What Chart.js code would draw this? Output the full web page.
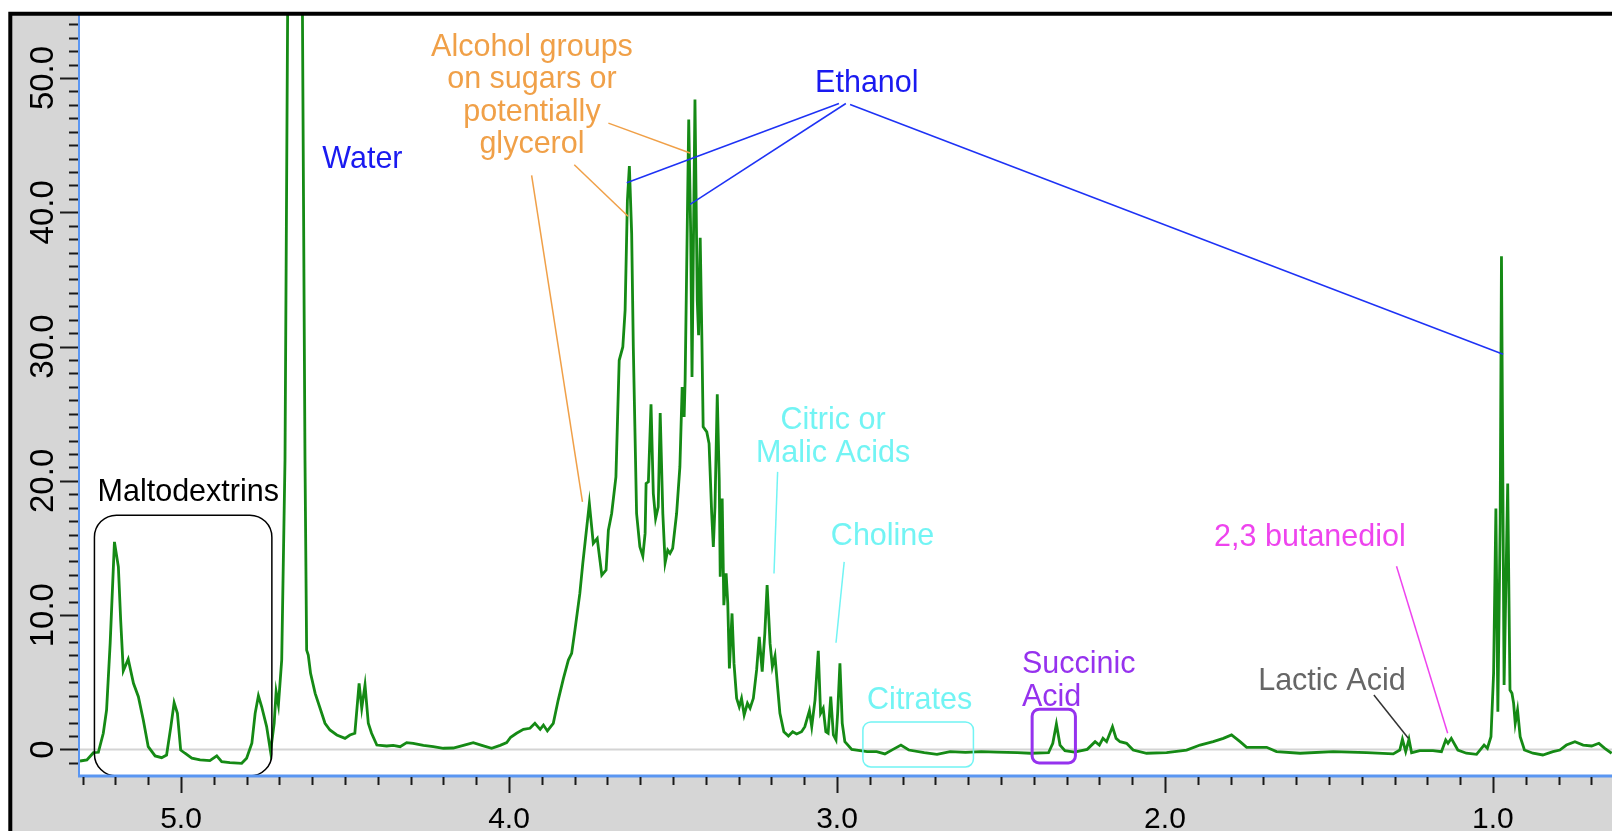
<!DOCTYPE html>
<html>
<head>
<meta charset="utf-8">
<script src="https://cdn.jsdelivr.net/npm/chart.js@4.4.1/dist/chart.umd.min.js"></script>
<style>
  html, body { margin: 0; padding: 0; background: #fff; }
  canvas { display: block; }
</style>
</head>
<body>
<canvas id="spectrum" width="1612" height="831"></canvas>
<script>
// chemical shift (ppm) and intensity
const shifts = [
  5.308, 5.287, 5.267, 5.252, 5.237, 5.227, 5.216, 5.203, 5.191, 5.184,
  5.176, 5.161, 5.145, 5.130, 5.115, 5.100, 5.079, 5.059, 5.044, 5.031,
  5.021, 5.011, 5.001, 4.988, 4.967, 4.942, 4.912, 4.891, 4.876, 4.851,
  4.815, 4.800, 4.784, 4.774, 4.764, 4.754, 4.739, 4.727, 4.716, 4.710,
  4.703, 4.693, 4.683, 4.652, 4.622, 4.617, 4.612, 4.605, 4.591, 4.576,
  4.561, 4.546, 4.525, 4.500, 4.485, 4.470, 4.457, 4.449, 4.439, 4.429,
  4.419, 4.403, 4.373, 4.353, 4.332, 4.312, 4.292, 4.261, 4.231, 4.200,
  4.170, 4.139, 4.109, 4.083, 4.053, 4.027, 4.007, 3.995, 3.977, 3.956,
  3.936, 3.921, 3.905, 3.895, 3.883, 3.865, 3.850, 3.834, 3.819, 3.809,
  3.799, 3.784, 3.775, 3.765, 3.755, 3.743, 3.731, 3.717, 3.704, 3.697,
  3.687, 3.674, 3.664, 3.653, 3.646, 3.639, 3.633, 3.626, 3.621, 3.611,
  3.601, 3.592, 3.585, 3.582, 3.575, 3.567, 3.560, 3.553, 3.545, 3.539,
  3.531, 3.524, 3.516, 3.509, 3.501, 3.489, 3.479, 3.472, 3.466, 3.463,
  3.452, 3.446, 3.442, 3.433, 3.426, 3.422, 3.417, 3.412, 3.408, 3.397,
  3.390, 3.382, 3.377, 3.372, 3.365, 3.359, 3.356, 3.350, 3.345, 3.338,
  3.333, 3.328, 3.320, 3.314, 3.306, 3.298, 3.291, 3.283, 3.273, 3.265,
  3.255, 3.245, 3.237, 3.228, 3.220, 3.213, 3.204, 3.197, 3.189, 3.182,
  3.174, 3.162, 3.148, 3.135, 3.123, 3.108, 3.098, 3.084, 3.077, 3.067,
  3.057, 3.050, 3.042, 3.034, 3.027, 3.019, 3.011, 3.003, 2.998, 2.991,
  2.984, 2.976, 2.955, 2.940, 2.908, 2.879, 2.854, 2.829, 2.805, 2.781,
  2.734, 2.695, 2.655, 2.608, 2.560, 2.513, 2.450, 2.410, 2.355, 2.342,
  2.331, 2.320, 2.305, 2.276, 2.237, 2.213, 2.200, 2.189, 2.178, 2.160,
  2.149, 2.137, 2.117, 2.097, 2.056, 1.995, 1.934, 1.893, 1.853, 1.822,
  1.797, 1.771, 1.751, 1.690, 1.660, 1.588, 1.487, 1.385, 1.304, 1.284,
  1.276, 1.266, 1.256, 1.248, 1.223, 1.183, 1.157, 1.144, 1.137, 1.127,
  1.107, 1.081, 1.050, 1.027, 1.017, 1.006, 0.998, 0.991, 0.985, 0.978,
  0.974, 0.966, 0.955, 0.948, 0.942, 0.937, 0.932, 0.925, 0.917, 0.904,
  0.878, 0.848, 0.817, 0.796, 0.776, 0.750, 0.725, 0.699, 0.677, 0.659,
  0.638
]

const intensities = [
  -0.86, -0.78, -0.24, -0.21, 1.21, 2.94, 7.92, 15.46, 13.60, 9.64,
  5.86, 6.73, 4.93, 3.93, 2.19, 0.21, -0.48, -0.61, -0.41, 1.70,
  3.48, 2.69, -0.04, -0.28, -0.65, -0.78, -0.83, -0.48, -0.91, -0.98,
  -1.03, -0.65, 0.46, 2.69, 4.00, 3.18, 1.70, -0.16, 1.95, 4.30,
  3.31, 6.66, 21.5, 150, 21.54, 7.40, 7.03, 5.67, 4.18, 3.07,
  1.95, 1.45, 1.08, 0.83, 1.08, 1.21, 4.93, 3.07, 4.80, 1.95,
  1.21, 0.33, 0.26, 0.31, 0.21, 0.51, 0.46, 0.31, 0.21, 0.09,
  0.11, 0.31, 0.51, 0.31, 0.09, 0.31, 0.51, 0.91, 1.21, 1.50,
  1.58, 1.95, 1.50, 1.82, 1.38, 1.95, 3.68, 5.30, 6.66, 7.16,
  8.89, 11.62, 13.85, 16.09, 18.32, 15.34, 15.71, 12.98, 13.36, 16.33,
  17.57, 20.30, 28.98, 29.97, 32.70, 40.88, 43.44, 38.41, 29.97, 17.57,
  15.09, 14.40, 16.09, 19.81, 19.93, 25.71, 19.06, 17.20, 18.07, 25.06,
  17.57, 13.90, 14.84, 14.60, 14.97, 17.57, 21.04, 26.99, 24.76, 27.49,
  46.91, 38.43, 27.74, 48.40, 33.44, 30.84, 38.11, 30.71, 24.02, 23.65,
  22.78, 17.57, 15.09, 18.07, 26.45, 20.05, 12.86, 18.69, 10.75, 13.11,
  10.88, 6.04, 10.13, 6.41, 3.81, 3.18, 3.81, 2.57, 3.44, 3.07,
  3.81, 5.92, 8.39, 5.79, 8.65, 12.24, 7.90, 6.16, 6.96, 4.93,
  2.69, 1.32, 1.00, 1.32, 1.15, 1.32, 1.70, 2.89, 1.70, 3.68,
  7.35, 2.69, 3.07, 1.32, 1.21, 3.93, 1.08, 0.71, 2.69, 6.41,
  1.95, 0.58, 0.01, -0.04, -0.16, -0.16, -0.33, 0.01, 0.33, -0.04,
  -0.24, -0.36, -0.16, -0.21, -0.16, -0.19, -0.24, -0.28, -0.24, 0.46,
  1.90, 0.33, -0.09, -0.19, 0.01, 0.58, 0.33, 0.83, 0.58, 1.70,
  0.83, 0.58, 0.46, -0.04, -0.28, -0.24, -0.04, 0.33, 0.58, 0.83,
  1.08, 0.58, 0.16, 0.16, -0.16, -0.28, -0.16, -0.24, -0.33, -0.04,
  0.76, -0.16, 0.76, -0.24, -0.09, -0.09, -0.16, 0.71, 0.46, 0.83,
  -0.04, -0.28, -0.36, 0.33, 0.09, 0.95, 5.67, 17.95, 2.81, 16.85,
  36.72, 4.80, 19.81, 4.43, 4.18, 3.44, 1.95, 2.94, 0.95, -0.04,
  -0.28, -0.41, -0.16, -0.04, 0.33, 0.58, 0.33, 0.26, 0.46, 0.09,
  -0.28
]

const xLimits = [0.637, 5.308]
const yLimits = [-1.9, 54.69]
const xMajorTicks = [5, 4, 3, 2, 1]
const xTickLabels = ['5.0', '4.0', '3.0', '2.0', '1.0']
const yMajorTicks = [0, 10, 20, 30, 40, 50]
const yTickLabels = ['0', '10.0', '20.0', '30.0', '40.0', '50.0']

// annotation texts, leader lines and boxes, all in (ppm, intensity)
const noteTexts = [
  { lines: ['Maltodextrins'], at: [4.978, 19.14], color: '#000000' },
  { lines: ['Water'], at: [4.447, 43.91], color: '#1a1af0' },
  { lines: ['Alcohol groups', 'on sugars or', 'potentially', 'glycerol'], at: [3.930, 48.64], color: '#f0a048' },
  { lines: ['Ethanol'], at: [2.909, 49.59], color: '#1a1af0' },
  { lines: ['Citric or', 'Malic Acids'], at: [3.012, 23.27], color: '#72f4f4' },
  { lines: ['Choline'], at: [2.861, 15.83], color: '#72f4f4' },
  { lines: ['Citrates'], at: [2.748, 3.61], color: '#72f4f4' },
  { lines: ['Succinic', 'Acid'], at: [2.436, 5.10], color: '#9632ee', align: 'left' },
  { lines: ['Lactic Acid'], at: [1.491, 5.04], color: '#666666' },
  { lines: ['2,3 butanediol'], at: [1.558, 15.79], color: '#ee44ee' }
]

const noteLines = [
  { from: [3.697, 46.64], to: [3.448, 44.41], color: '#f0a048' },
  { from: [3.801, 43.54], to: [3.637, 39.70], color: '#f0a048' },
  { from: [3.931, 42.75], to: [3.776, 18.44], color: '#f0a048' },
  { from: [2.994, 48.10], to: [3.641, 42.20], color: '#1e32f5' },
  { from: [2.973, 48.10], to: [3.448, 40.59], color: '#1e32f5' },
  { from: [2.960, 48.03], to: [0.969, 29.43], color: '#1e32f5' },
  { from: [3.181, 20.67], to: [3.192, 13.11], color: '#72f4f4' },
  { from: [2.978, 13.97], to: [3.003, 7.95], color: '#72f4f4' },
  { from: [1.363, 4.06], to: [1.258, 0.83], color: '#333333' },
  { from: [1.294, 13.65], to: [1.138, 1.21], color: '#ee44ee' }
]

const noteBoxes = [
  { from: [5.264, 17.45], to: [4.723, -1.97], color: '#000000', width: 1.5, radius: 22 },
  { from: [2.921, 2.05], to: [2.584, -1.30], color: '#72f4f4', width: 1.5, radius: 8 },
  { from: [2.405, 3.00], to: [2.273, -1.00], color: '#9632ee', width: 3, radius: 7 }
]

const FONT = '"Liberation Sans", Arial, Helvetica, sans-serif'

function toPixel (chart, point) {
  return [chart.scales.x.getPixelForValue(point[0]), chart.scales.y.getPixelForValue(point[1])]
}

const framePlugin = {
  id: 'frame',
  beforeDraw (chart) {
    const { ctx, chartArea: a, width, height } = chart
    ctx.save()
    ctx.fillStyle = '#ffffff'
    ctx.fillRect(0, 0, width, height)
    ctx.fillStyle = '#d6d6d6'
    ctx.fillRect(10, 13, width - 10, height - 13)
    ctx.fillStyle = '#ffffff'
    ctx.fillRect(a.left, a.top, a.right - a.left, a.bottom - a.top)
    ctx.restore()
  },
  beforeDatasetsDraw (chart) {
    // zero line
    const { ctx, chartArea: a } = chart
    const y0 = chart.scales.y.getPixelForValue(0)
    ctx.save()
    ctx.strokeStyle = '#d4d4d4'
    ctx.lineWidth = 2
    ctx.beginPath()
    ctx.moveTo(a.left, y0)
    ctx.lineTo(a.right, y0)
    ctx.stroke()
    ctx.restore()
  },
  afterDatasetsDraw (chart) {
    const { ctx } = chart
    ctx.save()
    noteBoxes.forEach(b => {
      const [x1, y1] = toPixel(chart, b.from)
      const [x2, y2] = toPixel(chart, b.to)
      ctx.strokeStyle = b.color
      ctx.lineWidth = b.width
      ctx.beginPath()
      ctx.roundRect(x1, y1, x2 - x1, y2 - y1, b.radius)
      ctx.stroke()
    })
    noteLines.forEach(l => {
      const [x1, y1] = toPixel(chart, l.from)
      const [x2, y2] = toPixel(chart, l.to)
      ctx.strokeStyle = l.color
      ctx.lineWidth = 1.5
      ctx.beginPath()
      ctx.moveTo(x1, y1)
      ctx.lineTo(x2, y2)
      ctx.stroke()
    })
    ctx.font = '30.5px ' + FONT
    ctx.textBaseline = 'middle'
    const lineHeight = 32.5
    noteTexts.forEach(t => {
      const [x, y] = toPixel(chart, t.at)
      ctx.fillStyle = t.color
      ctx.textAlign = t.align || 'center'
      t.lines.forEach((line, i) => {
        ctx.fillText(line, x, y + (i - (t.lines.length - 1) / 2) * lineHeight)
      })
    })
    ctx.restore()
  },
  afterDraw (chart) {
    const { ctx, chartArea: a, width, height } = chart
    const xs = chart.scales.x
    const ys = chart.scales.y
    ctx.save()

    // axis lines
    ctx.strokeStyle = '#5a96f2'
    ctx.lineWidth = 2
    ctx.beginPath()
    ctx.moveTo(a.left - 1, a.top)
    ctx.lineTo(a.left - 1, a.bottom + 1)
    ctx.stroke()
    ctx.lineWidth = 3
    ctx.beginPath()
    ctx.moveTo(a.left - 2, a.bottom + 1)
    ctx.lineTo(a.right, a.bottom + 1)
    ctx.stroke()

    // ticks
    ctx.strokeStyle = '#1a1a1a'
    ctx.lineWidth = 2
    ctx.beginPath()
    for (let i = 7; i <= 53; i++) {
      const x = Math.round(xs.getPixelForValue(i / 10)) + 0.5
      const len = i % 10 === 0 ? 16 : 8
      ctx.moveTo(x, a.bottom + 2)
      ctx.lineTo(x, a.bottom + 2 + len)
    }
    for (let v = -1; v <= 54; v++) {
      const y = Math.round(ys.getPixelForValue(v)) + 0.5
      const len = v % 10 === 0 ? 18 : 9
      ctx.moveTo(a.left - 2, y)
      ctx.lineTo(a.left - 2 - len, y)
    }
    ctx.stroke()

    // tick labels
    ctx.fillStyle = '#000000'
    ctx.font = '30px ' + FONT
    ctx.textAlign = 'center'
    ctx.textBaseline = 'alphabetic'
    xMajorTicks.forEach((t, i) => {
      ctx.fillText(xTickLabels[i], xs.getPixelForValue(t), 828)
    })
    ctx.font = '33px ' + FONT
    yMajorTicks.forEach((t, i) => {
      ctx.save()
      ctx.translate(53, ys.getPixelForValue(t))
      ctx.rotate(-Math.PI / 2)
      ctx.fillText(yTickLabels[i], 0, 0)
      ctx.restore()
    })

    // black frame
    ctx.strokeStyle = '#000000'
    ctx.lineWidth = 4
    ctx.beginPath()
    ctx.moveTo(10.3, height)
    ctx.lineTo(10.3, 13.7)
    ctx.lineTo(width, 13.7)
    ctx.stroke()
    ctx.restore()
  }
}

new Chart(document.getElementById('spectrum'), {
  type: 'line',
  data: {
    datasets: [{
      label: 'Spectrum',
      data: shifts.map((x, i) => ({ x: x, y: intensities[i] })),
      borderColor: '#158a15',
      borderWidth: 2.8,
      pointRadius: 0,
      tension: 0,
      fill: false
    }]
  },
  options: {
    responsive: false,
    animation: false,
    layout: { padding: { left: 80, top: 15, right: 0, bottom: 56 } },
    scales: {
      x: { type: 'linear', reverse: true, min: xLimits[0], max: xLimits[1], display: false },
      y: { type: 'linear', min: yLimits[0], max: yLimits[1], display: false }
    },
    plugins: {
      legend: { display: false },
      tooltip: { enabled: false }
    }
  },
  plugins: [framePlugin]
})
</script>
</body>
</html>
